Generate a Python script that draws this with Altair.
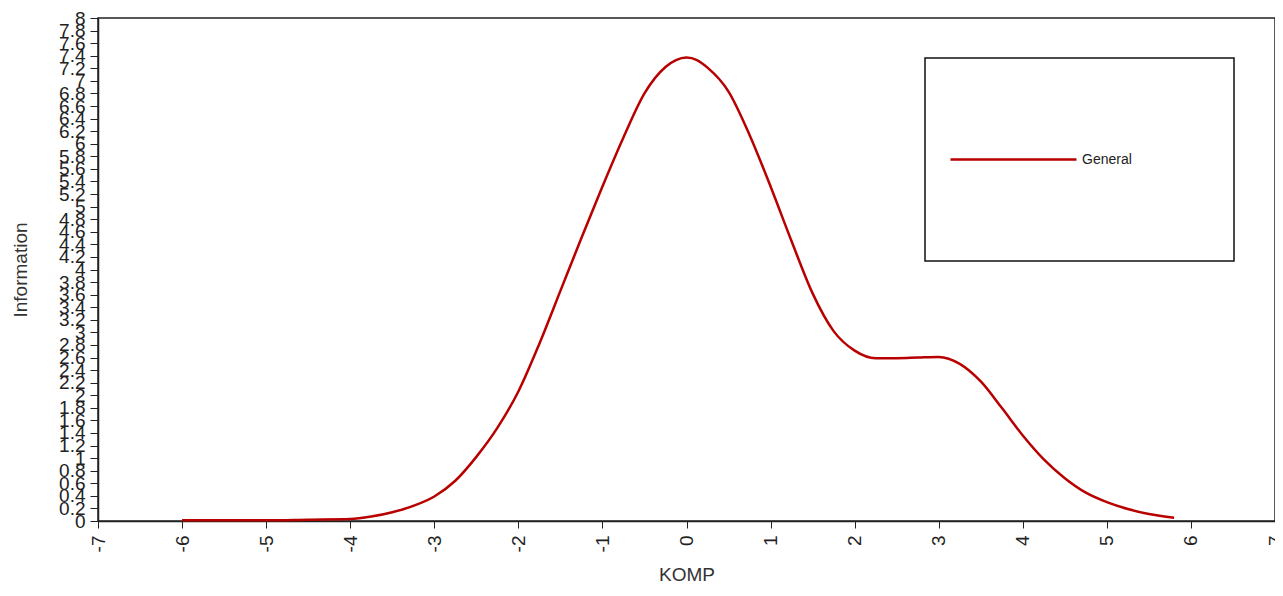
import altair as alt
import pandas as pd

# Test information curve values
komp = [-6.0, -5.5, -5.0, -4.5, -4.0, -3.75, -3.5, -3.25, -3.0, -2.75, -2.5, -2.25,
        -2.0, -1.75, -1.5, -1.25, -1.0, -0.75, -0.5, -0.25, -0.125, 0.0, 0.125, 0.25,
        0.5, 0.75, 1.0, 1.25, 1.5, 1.75, 2.0, 2.25, 2.5, 2.75, 3.0, 3.25, 3.5, 3.75,
        4.0, 4.25, 4.5, 4.75, 5.0, 5.25, 5.5, 5.8]
info = [0.01, 0.01, 0.01, 0.02, 0.03, 0.07, 0.14, 0.24, 0.39, 0.64, 1.02, 1.48,
        2.06, 2.82, 3.66, 4.50, 5.32, 6.10, 6.80, 7.22, 7.33, 7.37, 7.33, 7.21,
        6.83, 6.14, 5.32, 4.45, 3.62, 3.02, 2.71, 2.59, 2.59, 2.60, 2.61, 2.50, 2.22,
        1.80, 1.36, 0.98, 0.68, 0.45, 0.30, 0.19, 0.11, 0.05]
series = ["General"] * len(komp)

x_ticks = list(range(-7, 8))
y_ticks = [round(i * 0.2, 1) for i in range(41)]

df = pd.DataFrame({"KOMP": komp, "Information": info, "Series": series})
box_df = pd.DataFrame({"box": [0]})

FONT = "Liberation Sans"
DARK = "#222222"

frame = alt.Chart(box_df).mark_rect(fill="white", stroke="#111111", strokeWidth=1.5).encode(
    x=alt.value(827), x2=alt.value(1136), y=alt.value(40), y2=alt.value(243)
)

line = alt.Chart(df).mark_line(strokeWidth=2.5, interpolate="monotone").encode(
    x=alt.X(
        "KOMP:Q",
        title="KOMP",
        scale=alt.Scale(domain=[-7, 7], nice=False, zero=False),
        axis=alt.Axis(
            values=x_ticks, labelAngle=270, labelAlign="right", labelBaseline="middle",
            labelExpr="'' + datum.value", tickSize=7, labelPadding=7, labelFontSize=19,
            labelFont=FONT, labelColor=DARK, titleFont=FONT, titleFontSize=19,
            titleFontWeight="normal", titleColor="#333333", titleY=59,
            titleBaseline="alphabetic", grid=False, domainColor=DARK, tickColor=DARK,
            labelOverlap=False, domainWidth=1.5,
        ),
    ),
    y=alt.Y(
        "Information:Q",
        title="Information",
        scale=alt.Scale(domain=[0, 8], nice=False, zero=True),
        axis=alt.Axis(
            values=y_ticks, labelExpr="'' + datum.value", tickSize=8, labelPadding=5,
            labelFontSize=19, labelFont=FONT, labelColor=DARK, titleFont=FONT,
            titleFontSize=19, titleFontWeight="normal", titleColor="#333333",
            titleX=-78, titleBaseline="middle", grid=False, domainColor=DARK,
            tickColor=DARK, labelOverlap=False, domainWidth=1.5,
        ),
    ),
    color=alt.Color(
        "Series:N",
        scale=alt.Scale(range=["#b80000"]),
        legend=alt.Legend(
            orient="none", legendX=851, legendY=77, title=None, symbolType="stroke",
            symbolSize=126 * 126, symbolStrokeWidth=2.5, labelFontSize=14,
            labelFont=FONT, labelColor=DARK, labelOffset=4, padding=0,
        ),
    ),
)

chart = alt.layer(frame, line).properties(
    width=1177, height=503,
    padding={"left": 90, "top": 10, "right": 0, "bottom": 63},
    autosize=alt.AutoSizeParams(type="none"),
    background="white",
).configure_view(stroke=DARK, strokeWidth=1.5)

chart.save("out.html", embed_options={"renderer": "svg", "actions": False})
